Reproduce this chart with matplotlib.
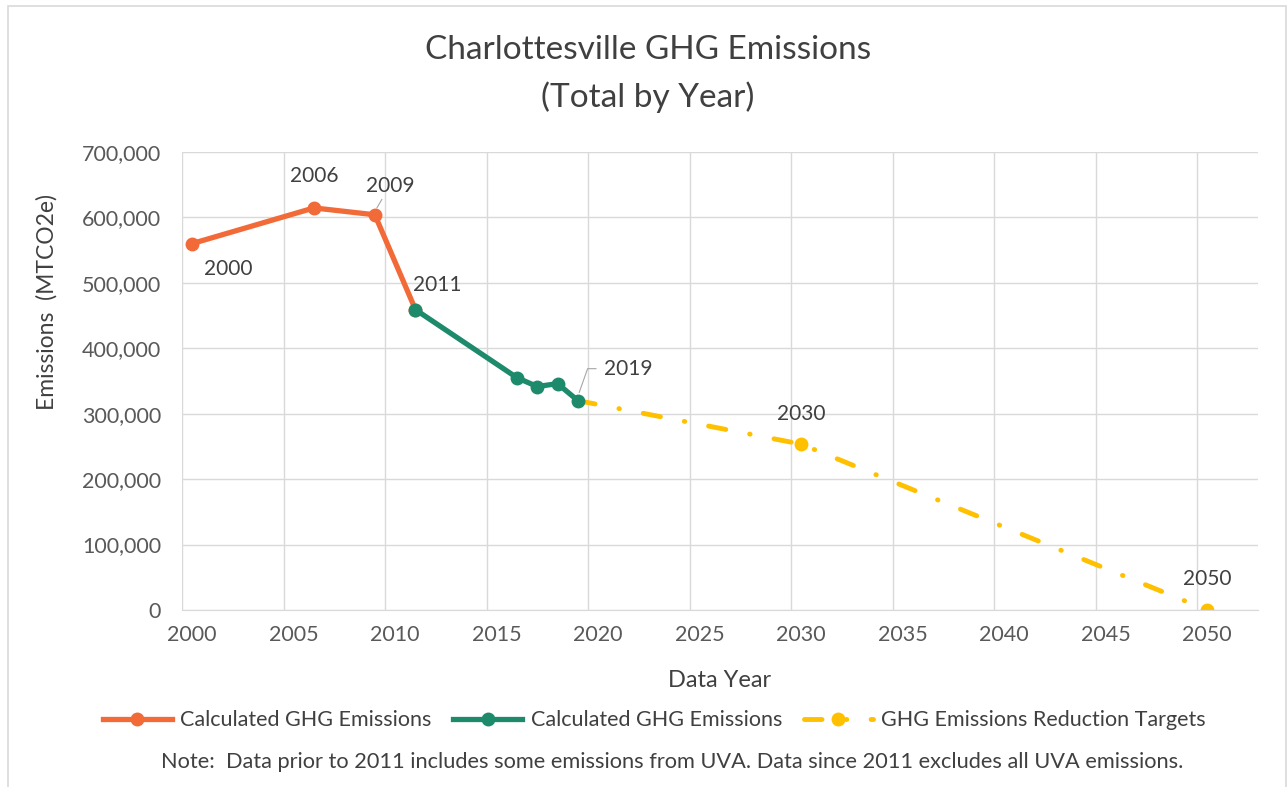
import numpy as np
import matplotlib
matplotlib.use("Agg")
import matplotlib.pyplot as plt
from matplotlib.patches import Rectangle
from matplotlib.lines import Line2D
from matplotlib.transforms import ScaledTranslation

# data (data years, MTCO2e)
pre_years = [2000, 2006, 2009, 2011]
pre_vals = [560000, 614500, 604000, 459000]
post_years = [2011, 2016, 2017, 2018, 2019]
post_vals = [459000, 355000, 341500, 346000, 320000]
target_years = [2019, 2030, 2050]
target_vals = [320000, 253500, 0]

label_years = [2000, 2006, 2009, 2011, 2019, 2030, 2050]
x_ticks = list(range(2000, 2051, 5))
y_ticks = list(range(0, 700001, 100000))

MID = 0.5  # points sit mid-year on the date axis
ORANGE = "#F26A38"
GREEN = "#1E8A6C"
YELLOW = "#FFC000"
TEXT = "#404040"
GRID = "#D9D9D9"
LEADER = "#A6A6A6"

plt.rcParams["font.family"] = ["Lato", "DejaVu Sans"]

fig = plt.figure(figsize=(12.88, 7.87), dpi=100)
ax = fig.add_axes([0.1413, 0.2249, 0.8354, 0.582])

fig.patches.append(Rectangle((8 / 1288, -0.01), 1278 / 1288, 1.01 - 6 / 787,
                             transform=fig.transFigure, fill=False,
                             edgecolor=GRID, lw=1.2))

ax.plot(np.array(target_years) + MID, target_vals, color=YELLOW, lw=3.5,
        dashes=(3.6, 5.0, 0.1, 5.0), dash_capstyle="round",
        marker="o", markersize=9, markevery=[1, 2],
        label="GHG Emissions Reduction Targets", zorder=2)
ax.plot(np.array(pre_years) + MID, pre_vals, color=ORANGE, lw=3.8,
        marker="o", markersize=9, label="Calculated GHG Emissions", zorder=3)
ax.plot(np.array(post_years) + MID, post_vals, color=GREEN, lw=3.8,
        marker="o", markersize=9, label="Calculated GHG Emissions", zorder=4)

# data labels (offsets in points)
all_pts = dict(zip(pre_years + post_years + target_years,
                   pre_vals + post_vals + target_vals))
offsets = {2000: (26, -18), 2006: (0, 23), 2009: (11, 21), 2011: (16, 18),
           2019: (36, 23), 2030: (0, 22), 2050: (0, 22)}
for yr in label_years:
    ax.annotate(str(yr), (yr + MID, all_pts[yr]), xytext=offsets[yr],
                textcoords="offset points", ha="center", va="center",
                fontsize=15, color=TEXT, zorder=6)


def leader(yr, path_pts):
    # thin grey leader line, path given in points relative to the data point
    base = ScaledTranslation(yr + MID, all_pts[yr], ax.transData)
    xs = [p[0] / 72 for p in path_pts]
    ys = [p[1] / 72 for p in path_pts]
    ax.add_line(Line2D(xs, ys, transform=fig.dpi_scale_trans + base,
                       color=LEADER, lw=0.8, zorder=1))


leader(2009, [(1.5, 5), (5, 11)])
leader(2019, [(1, 6), (7, 23), (13, 23)])

ax.set_xlim(2000, 2053)
ax.set_ylim(0, 700000)
ax.set_xticks(x_ticks)
ax.set_xticklabels([])
ax.set_xticks(np.array(x_ticks) + MID, minor=True)
ax.set_xticklabels([str(t) for t in x_ticks], minor=True)
ax.set_yticks(y_ticks)
ax.set_yticklabels([f"{v:,}" for v in y_ticks])
ax.tick_params(which="both", length=0, labelsize=15.5, colors="#595959")
ax.tick_params(axis="x", which="both", pad=11)
ax.tick_params(axis="y", pad=15)
ax.grid(True, which="major", color=GRID, lw=1)
ax.set_axisbelow(True)
for s in ["top", "right", "left"]:
    ax.spines[s].set_visible(False)
ax.spines["bottom"].set_color(GRID)

ax.set_xlabel("Data Year", fontsize=17, color=TEXT)
ax.set_ylabel("Emissions  (MTCO2e)", fontsize=16.5, color=TEXT)
ax.xaxis.set_label_coords(0.5, -0.131)
ax.yaxis.set_label_coords(-0.116, 0.672)

fig.text(0.503, 0.936, "Charlottesville GHG Emissions", ha="center", va="center",
         fontsize=24, color=TEXT)
fig.text(0.503, 0.877, "(Total by Year)", ha="center", va="center",
         fontsize=24, color=TEXT)

handles, labels = ax.get_legend_handles_labels()
order = [1, 2, 0]
fig.legend([handles[i] for i in order], [labels[i] for i in order],
           loc="center", bbox_to_anchor=(0.508, 0.085), ncol=3, frameon=False,
           fontsize=15.5, labelcolor=TEXT, handlelength=3.2, columnspacing=1.0,
           handletextpad=0.4)

fig.text(0.522, 0.032, "Note:  Data prior to 2011 includes some emissions from UVA. "
         "Data since 2011 excludes all UVA emissions.", ha="center", va="center",
         fontsize=15.7, color=TEXT)

fig.savefig("out.png", dpi=100)
